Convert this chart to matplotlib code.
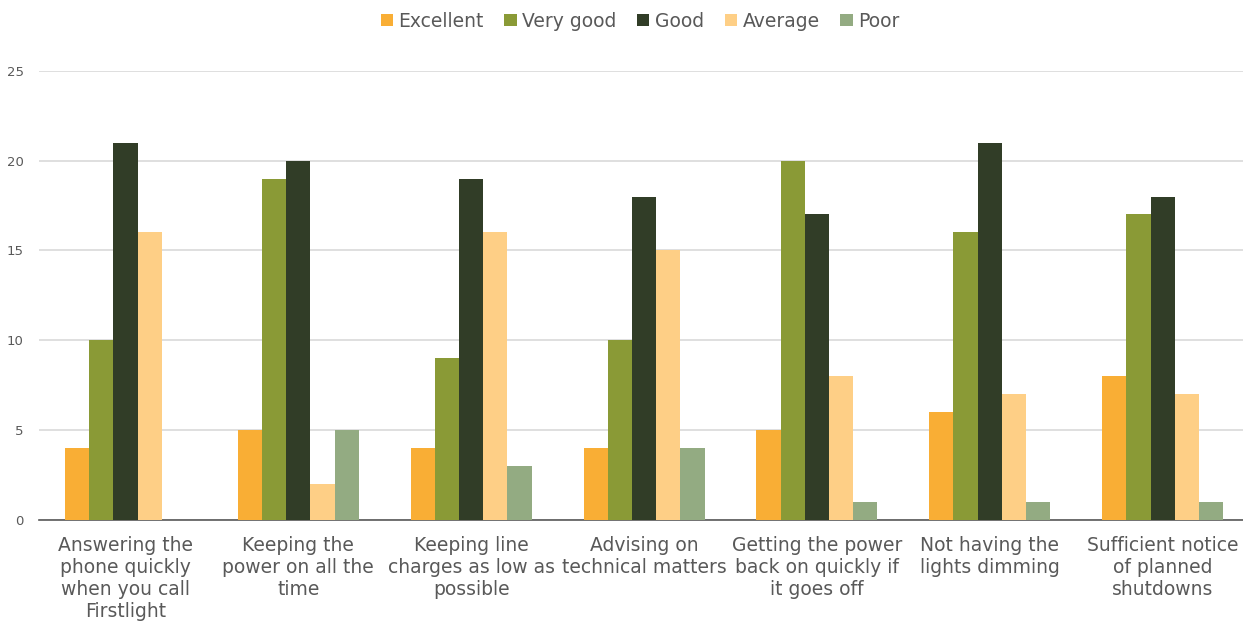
import matplotlib.pyplot as plt
import numpy as np

categories = [
    "Answering the\nphone quickly\nwhen you call\nFirstlight",
    "Keeping the\npower on all the\ntime",
    "Keeping line\ncharges as low as\npossible",
    "Advising on\ntechnical matters",
    "Getting the power\nback on quickly if\nit goes off",
    "Not having the\nlights dimming",
    "Sufficient notice\nof planned\nshutdowns",
]
series = ["Excellent", "Very good", "Good", "Average", "Poor"]
excellent = [4, 5, 4, 4, 5, 6, 8]
very_good = [10, 19, 9, 10, 20, 16, 17]
good = [21, 20, 19, 18, 17, 21, 18]
average = [16, 2, 16, 15, 8, 7, 7]
poor = [0, 5, 3, 4, 1, 1, 1]
values = [excellent, very_good, good, average, poor]
colors = ["#F9AE35", "#8A9A36", "#313D27", "#FECF86", "#93AB82"]

plt.rcParams['font.family'] = ['DejaVu Sans']
text_col = "#595959"

fig = plt.figure(figsize=(12.43, 6.21), dpi=100)
ax = fig.add_axes([0.0314, 0.163, 0.9735, 0.723])

x = np.arange(len(categories))
w = 0.14
for i, (name, vals, c) in enumerate(zip(series, values, colors)):
    ax.bar(x + (i - 2) * w, vals, width=w, color=c, label=name, zorder=3)

ax.set_xlim(-0.5, len(categories) - 0.5)
ax.set_ylim(0, 25)
ax.set_yticks(range(0, 26, 5))
ax.yaxis.grid(True, color="#D9D9D9", linewidth=1.2, zorder=0)
ax.set_axisbelow(True)
for s in ["top", "right", "left"]:
    ax.spines[s].set_visible(False)
ax.spines["bottom"].set_color("#595959")
ax.spines["bottom"].set_linewidth(1.2)
ax.tick_params(axis="y", length=0, labelsize=9.5, colors=text_col, pad=11)
ax.tick_params(axis="x", length=0, labelsize=13.5, colors=text_col, pad=12)
ax.set_xticks(x)
ax.set_xticklabels(categories, linespacing=1.2)

handles, labels = ax.get_legend_handles_labels()
leg = fig.legend(handles, labels, loc="center", bbox_to_anchor=(0.515, 0.966), ncol=5,
                 frameon=False, fontsize=13.5, handlelength=0.65, handleheight=0.65,
                 handletextpad=0.3, columnspacing=1.1)
for t in leg.get_texts():
    t.set_color(text_col)

fig.savefig("out.png", dpi=100)
